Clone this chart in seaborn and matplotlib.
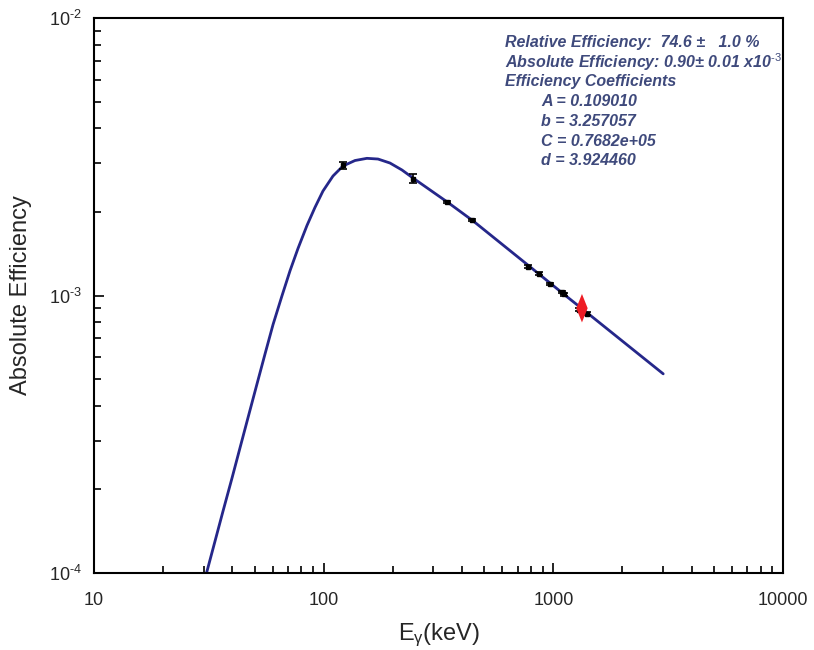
import matplotlib
matplotlib.use("Agg")
import matplotlib.pyplot as plt
import numpy as np
import pandas as pd
import seaborn as sns
from matplotlib.ticker import LogLocator, FuncFormatter, NullFormatter

# ---------------- data ----------------
curve_energy = [30.9, 33.6, 36.4, 39.9, 43.2, 46.8, 51.2, 55.5, 60.2, 65.8,
                71.4, 77.3, 84.6, 91.6, 99.3, 109.8, 121.3, 136.9, 154.3,
                172.4, 194.4, 219.3, 244.8, 348.7, 448.0, 790.8, 1112.0,
                1419.0, 3009.0]
curve_eff = [1.00e-4, 1.297e-4, 1.663e-4, 2.199e-4, 2.82e-4, 3.62e-4, 4.786e-4,
             6.14e-4, 7.86e-4, 9.96e-4, 1.229e-3, 1.477e-3, 1.788e-3, 2.075e-3,
             2.379e-3, 2.695e-3, 2.928e-3, 3.065e-3, 3.121e-3, 3.103e-3,
             3.002e-3, 2.833e-3, 2.651e-3, 2.16e-3, 1.855e-3, 1.27e-3, 1.01e-3,
             0.86e-3, 5.22e-4]

point_energy = [121.8, 244.7, 344.3, 444.0, 778.9, 867.4, 964.1, 1085.8, 1112.1, 1299.1, 1408.0]
point_eff = [2.95e-3, 2.64e-3, 2.17e-3, 1.87e-3, 1.27e-3, 1.20e-3, 1.10e-3,
             1.03e-3, 1.01e-3, 0.89e-3, 0.86e-3]
point_err = [0.09e-3, 0.10e-3, 0.02e-3, 0.02e-3, 0.015e-3, 0.015e-3, 0.012e-3,
             0.012e-3, 0.012e-3, 0.012e-3, 0.010e-3]

ref_energy = [1332.5]
ref_eff = [0.90e-3]

x_ticks = [10, 100, 1000, 10000]
y_ticks = [1e-4, 1e-3, 1e-2]

info_lines = [
    "Relative Efficiency:  74.6 \u00b1   1.0 %",
    "Absolute Efficiency: 0.90\u00b1 0.01 x10$^{\\text{-3}}$",
    "Efficiency Coefficients",
]
coef_lines = [
    "A = 0.109010",
    "b = 3.257057",
    "C = 0.7682e+05",
    "d = 3.924460",
]

# ---------------- style ----------------
sns.set_style("white")
plt.rcParams["font.family"] = ["Liberation Sans", "DejaVu Sans"]
plt.rcParams["mathtext.fontset"] = "custom"
plt.rcParams["mathtext.rm"] = "Liberation Sans"
plt.rcParams["mathtext.it"] = "Liberation Sans:italic"
plt.rcParams["mathtext.bf"] = "Liberation Sans:bold"

curve_color = "#25278a"
text_color = "#3f4a7c"

fig = plt.figure(figsize=(8.14, 6.5), dpi=100)
ax = fig.add_axes([94 / 814, 1 - 573 / 650, (783 - 94) / 814, (573 - 18) / 650])

curve_df = pd.DataFrame({"E": curve_energy, "eff": curve_eff})
sns.lineplot(data=curve_df, x="E", y="eff", ax=ax, color=curve_color, lw=2.0,
             sort=False, estimator=None, zorder=2)

ax.errorbar(point_energy, point_eff, yerr=point_err, fmt="s", color="black",
            ms=3.5, capsize=3, elinewidth=1.2, capthick=1.2, zorder=3)

diamond = [(0, 1), (0.4, 0), (0, -1), (-0.4, 0)]
sns.scatterplot(x=ref_energy, y=ref_eff, ax=ax, marker=diamond, s=420,
                color="#ee1c24", edgecolor="none", zorder=4)

ax.set_xscale("log")
ax.set_yscale("log")
ax.set_xlim(10, 10000)
ax.set_ylim(1e-4, 1e-2)

ax.xaxis.set_major_locator(plt.FixedLocator(x_ticks))
ax.xaxis.set_major_formatter(FuncFormatter(lambda v, p: f"{int(round(v))}"))
ax.xaxis.set_minor_locator(LogLocator(base=10, subs=np.arange(2, 10)))
ax.xaxis.set_minor_formatter(NullFormatter())
ax.yaxis.set_major_locator(plt.FixedLocator(y_ticks))
ax.yaxis.set_major_formatter(FuncFormatter(
    lambda v, p: "10$^{\\text{-%d}}$" % int(round(-np.log10(v)))))
ax.yaxis.set_minor_locator(LogLocator(base=10, subs=np.arange(2, 10)))
ax.yaxis.set_minor_formatter(NullFormatter())

ax.tick_params(which="both", direction="in", top=False, right=False,
               bottom=True, left=True, color="black", width=1.2)
ax.tick_params(which="major", length=7, labelsize=13)
ax.tick_params(axis="x", which="major", pad=14)
ax.tick_params(axis="y", which="major", pad=9)
ax.tick_params(which="minor", length=5)
for s in ax.spines.values():
    s.set_color("black")
    s.set_linewidth(1.5)

ax.set_xlabel(r"E$_{\mathrm{\gamma}}$(keV)", fontsize=17, labelpad=9)
ax.set_ylabel("Absolute Efficiency", fontsize=17, labelpad=12)

# annotation block
y0 = 42
for i, t in enumerate(info_lines):
    fig.text(505 / 814, 1 - (y0 + 19.8 * i) / 650, t, fontsize=11.5, fontweight="bold",
             style="italic", color=text_color, va="center", ha="left")
for j, t in enumerate(coef_lines):
    fig.text(541 / 814, 1 - (y0 + 19.8 * (j + 3)) / 650, t, fontsize=11.5, fontweight="bold",
             style="italic", color=text_color, va="center", ha="left")

fig.savefig("out.png", dpi=100)
